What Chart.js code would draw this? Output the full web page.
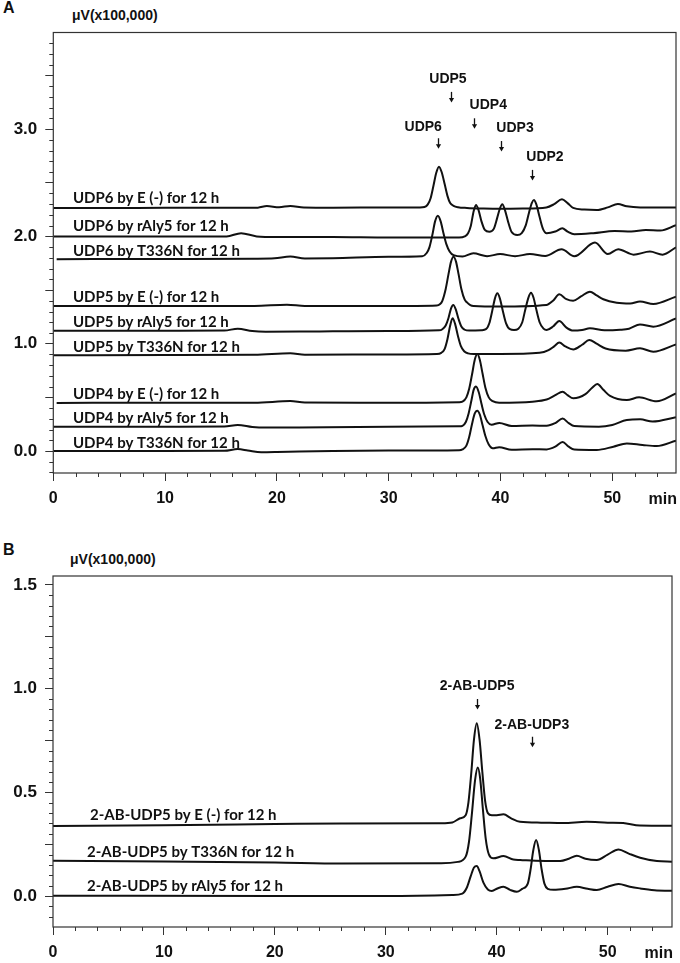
<!DOCTYPE html>
<html lang="en">
<head>
<meta charset="UTF-8">
<title>UDP chromatograms</title>
<script src="https://cdn.jsdelivr.net/npm/chart.js"></script>
<style>
  body { margin: 0; background: #fff; width: 680px; height: 963px; position: relative; overflow: hidden; font-family: "Liberation Sans", Arial, sans-serif; }
  canvas { position: absolute; left: 0; }
  .lbl { position: absolute; font-weight: bold; color: #111; white-space: nowrap; line-height: 1; }
</style>
</head>
<body>
<div class="lbl" style="left:3px;top:0px;font-size:16px">A</div>
<div class="lbl" style="left:72px;top:8px;font-size:14px">μV(x100,000)</div>
<canvas id="panelA" width="680" height="520" style="top:0"></canvas>
<div class="lbl" style="left:3px;top:542px;font-size:16px">B</div>
<div class="lbl" style="left:70px;top:552px;font-size:14px">μV(x100,000)</div>
<canvas id="panelB" width="680" height="423" style="top:540px"></canvas>

<script>
// retention time (min) / signal (x100,000 µV)

// ---- panel A ----
const udp6E_t = [0, 5, 10, 15, 18.3, 19.1, 20.2, 21.2, 22.4, 25, 30, 32.8, 33.2, 33.5, 33.75, 34.0, 34.25, 34.5, 34.75, 35.0, 35.25, 35.5, 35.8, 36.2, 37.0, 38.5, 40, 42, 44.1, 44.8, 45.5, 46.0, 46.5, 47.5, 48.6, 49.6, 50.5, 51.3, 52.5, 55.7];
const udp6E_v = [2.265, 2.265, 2.266, 2.266, 2.268, 2.283, 2.271, 2.284, 2.27, 2.268, 2.27, 2.27, 2.274, 2.298, 2.356, 2.47, 2.591, 2.65, 2.595, 2.49, 2.38, 2.31, 2.285, 2.272, 2.265, 2.26, 2.258, 2.26, 2.27, 2.30, 2.345, 2.31, 2.265, 2.25, 2.246, 2.27, 2.302, 2.28, 2.27, 2.27];

const udp6R_t = [0, 10, 15.5, 16.8, 18.2, 20, 25, 30, 36.3, 36.8, 37.1, 37.35, 37.6, 37.81, 38.05, 38.3, 38.6, 39.0, 39.4, 39.7, 39.95, 40.16, 40.4, 40.7, 41.0, 41.5, 41.9, 42.25, 42.55, 42.8, 42.99, 43.2, 43.5, 43.8, 44.13, 44.9, 45.53, 46.0, 46.6, 48.3, 50.2, 51.7, 53.0, 54.3, 55.7];
const udp6R_v = [2.0, 2.0, 2.0, 2.03, 2.0, 1.995, 1.995, 1.99, 1.99, 2.0, 2.03, 2.10, 2.235, 2.293, 2.24, 2.14, 2.06, 2.043, 2.07, 2.17, 2.26, 2.299, 2.245, 2.13, 2.04, 2.012, 2.03, 2.10, 2.22, 2.31, 2.339, 2.30, 2.18, 2.07, 2.029, 2.045, 2.075, 2.045, 2.02, 2.03, 2.05, 2.045, 2.06, 2.055, 2.105];

const udp6T_t = [0.3, 10, 18, 19.8, 21.2, 22.5, 25, 30, 33.0, 33.4, 33.65, 33.9, 34.15, 34.4, 34.65, 34.9, 35.15, 35.45, 35.8, 36.6, 37.57, 38.8, 39.96, 41.3, 42.64, 44.0, 45.47, 46.6, 48.45, 49.6, 50.53, 51.9, 53.37, 54.5, 55.7];
const udp6T_v = [1.787, 1.79, 1.792, 1.796, 1.812, 1.795, 1.797, 1.81, 1.815, 1.845, 1.90, 2.01, 2.14, 2.193, 2.14, 2.03, 1.93, 1.86, 1.825, 1.812, 1.842, 1.815, 1.836, 1.815, 1.836, 1.818, 1.88, 1.815, 1.942, 1.836, 1.88, 1.83, 1.858, 1.83, 1.898];

const udp5E_t = [0, 10, 18, 20.9, 22.5, 30, 34.3, 34.6, 34.8, 35.1, 35.35, 35.58, 35.8, 36.02, 36.25, 36.5, 36.8, 37.0, 37.3, 37.6, 40, 44.1, 44.7, 45.26, 45.9, 46.5, 47.2, 48.0, 48.6, 49.2, 50.4, 51.6, 52.48, 53.67, 55.7];
const udp5E_v = [1.351, 1.352, 1.352, 1.364, 1.352, 1.351, 1.356, 1.37, 1.40, 1.51, 1.648, 1.765, 1.811, 1.765, 1.648, 1.51, 1.41, 1.385, 1.36, 1.352, 1.346, 1.36, 1.40, 1.46, 1.415, 1.40, 1.44, 1.485, 1.45, 1.414, 1.382, 1.375, 1.393, 1.37, 1.438];

const udp5R_t = [0, 10, 15.3, 16.5, 17.8, 19, 22, 25, 30, 34.5, 34.8, 35.1, 35.35, 35.58, 35.78, 36.0, 36.25, 36.5, 36.8, 37.2, 38.3, 38.7, 39.0, 39.25, 39.5, 39.72, 39.95, 40.2, 40.5, 40.85, 41.21, 41.6, 41.95, 42.2, 42.5, 42.73, 42.95, 43.2, 43.5, 43.85, 44.13, 44.7, 45.26, 45.9, 46.51, 47.3, 48.0, 49.3, 50.7, 51.5, 52.48, 53.67, 55.7];
const udp5R_v = [1.121, 1.121, 1.122, 1.14, 1.118, 1.112, 1.113, 1.115, 1.118, 1.125, 1.135, 1.17, 1.24, 1.33, 1.361, 1.32, 1.23, 1.16, 1.13, 1.122, 1.126, 1.135, 1.19, 1.30, 1.42, 1.469, 1.42, 1.31, 1.19, 1.135, 1.128, 1.14, 1.20, 1.31, 1.43, 1.475, 1.43, 1.32, 1.20, 1.14, 1.128, 1.16, 1.212, 1.15, 1.122, 1.128, 1.143, 1.125, 1.13, 1.14, 1.18, 1.159, 1.235];

const udp5T_t = [0, 10, 18, 21.2, 22.5, 30, 34.3, 34.7, 35.0, 35.25, 35.5, 35.72, 35.95, 36.2, 36.45, 36.75, 37.1, 37.6, 40, 43.5, 44.3, 44.8, 45.26, 45.8, 46.51, 47.3, 47.94, 48.6, 49.4, 51.2, 52.48, 53.67, 55.7];
const udp5T_v = [0.892, 0.894, 0.896, 0.911, 0.897, 0.900, 0.905, 0.915, 0.95, 1.04, 1.17, 1.237, 1.18, 1.07, 0.98, 0.93, 0.91, 0.904, 0.904, 0.915, 0.94, 0.975, 1.010, 0.975, 0.947, 0.99, 1.035, 1.0, 0.955, 0.935, 0.957, 0.926, 0.994];

const udp4E_t = [0.3, 10, 18, 21.2, 22.5, 30, 36.3, 36.6, 36.95, 37.2, 37.45, 37.7, 37.93, 38.15, 38.4, 38.65, 38.95, 39.3, 39.88, 42.86, 44.13, 44.9, 45.56, 46.0, 46.51, 47.6, 48.2, 48.66, 49.2, 49.8, 51.3, 52.4, 53.97, 55.7];
const udp4E_v = [0.448, 0.45, 0.45, 0.465, 0.451, 0.45, 0.455, 0.46, 0.50, 0.58, 0.71, 0.85, 0.904, 0.85, 0.72, 0.59, 0.50, 0.465, 0.45, 0.46, 0.48, 0.52, 0.553, 0.52, 0.491, 0.53, 0.59, 0.624, 0.57, 0.513, 0.475, 0.50, 0.463, 0.537];

const udp4R_t = [0, 10, 15.3, 16.5, 17.8, 19, 22, 30, 36.3, 36.6, 36.9, 37.15, 37.4, 37.6, 37.81, 38.05, 38.3, 38.55, 38.85, 39.2, 39.9, 41.0, 42.86, 44.13, 44.9, 45.56, 46.1, 46.6, 48.8, 50.0, 51.3, 52.5, 53.6, 55.7];
const udp4R_v = [0.227, 0.227, 0.228, 0.243, 0.224, 0.218, 0.22, 0.225, 0.23, 0.235, 0.27, 0.35, 0.47, 0.57, 0.60, 0.55, 0.44, 0.34, 0.27, 0.245, 0.262, 0.233, 0.237, 0.235, 0.26, 0.302, 0.26, 0.233, 0.227, 0.243, 0.289, 0.295, 0.274, 0.314];

const udp4T_t = [0, 10, 15.3, 16.5, 17.4, 18.6, 20, 22, 25, 30, 36.3, 36.6, 36.95, 37.2, 37.45, 37.7, 37.93, 38.15, 38.4, 38.65, 38.95, 39.3, 39.88, 41.0, 42.86, 44.13, 44.9, 45.56, 46.1, 46.6, 48.6, 50.1, 51.3, 52.7, 53.97, 55.7];
const udp4T_v = [0.0, 0.001, 0.002, 0.018, 0.005, -0.012, -0.01, -0.005, 0.0, 0.004, 0.008, 0.015, 0.05, 0.13, 0.25, 0.35, 0.376, 0.34, 0.24, 0.14, 0.06, 0.025, 0.035, 0.012, 0.016, 0.015, 0.04, 0.084, 0.04, 0.014, 0.01, 0.04, 0.07, 0.056, 0.046, 0.096];

const namesA = ['UDP6 by E (-) for 12 h', 'UDP6 by rAly5 for 12 h', 'UDP6 by T336N for 12 h',
                'UDP5 by E (-) for 12 h', 'UDP5 by rAly5 for 12 h', 'UDP5 by T336N for 12 h',
                'UDP4 by E (-) for 12 h', 'UDP4 by rAly5 for 12 h', 'UDP4 by T336N for 12 h'];
const peakNamesA = ['UDP5', 'UDP4', 'UDP6', 'UDP3', 'UDP2'];
const yTicksA = [0, 0.5, 1, 1.5, 2, 2.5, 3, 3.5];
const yTickLabelsA = ['0.0', '', '1.0', '', '2.0', '', '3.0', ''];

// ---- panel B ----
const abE_t = [0, 10, 20, 26, 35, 36.0, 36.7, 37.2, 37.45, 37.7, 37.95, 38.2, 38.45, 38.7, 38.95, 39.2, 39.56, 40.0, 40.61, 41.3, 42.1, 44, 46, 48.1, 50, 51.4, 52.9, 55.8];
const abE_v = [0.338, 0.342, 0.347, 0.35, 0.351, 0.355, 0.375, 0.39, 0.452, 0.59, 0.755, 0.833, 0.755, 0.60, 0.46, 0.40, 0.39, 0.39, 0.394, 0.375, 0.358, 0.354, 0.352, 0.358, 0.354, 0.352, 0.34, 0.339];

const abT_t = [0, 10, 20, 26, 35, 36.5, 37.2, 37.5, 37.75, 38.05, 38.29, 38.5, 38.75, 39.0, 39.3, 39.7, 40.61, 41.5, 42.11, 43.5, 45.72, 46.5, 47.22, 48.0, 49.02, 50.0, 50.98, 51.9, 52.93, 54.44, 55.8];
const abT_v = [0.170, 0.167, 0.162, 0.157, 0.158, 0.165, 0.19, 0.262, 0.39, 0.56, 0.620, 0.57, 0.42, 0.28, 0.20, 0.182, 0.193, 0.176, 0.174, 0.17, 0.169, 0.18, 0.194, 0.18, 0.174, 0.20, 0.225, 0.205, 0.185, 0.169, 0.166];

const abR_t = [0, 20, 30, 36, 36.9, 37.3, 37.65, 37.95, 38.2, 38.45, 38.8, 39.2, 39.56, 40.1, 40.61, 41.2, 41.81, 42.3, 42.8, 43.05, 43.3, 43.55, 43.8, 44.05, 44.3, 44.6, 45.12, 46.2, 47.22, 48.2, 49.02, 50.0, 50.98, 52.0, 52.93, 54.44, 55.8];
const abR_v = [0.002, 0.0, 0.0, 0.005, 0.012, 0.04, 0.095, 0.138, 0.145, 0.12, 0.065, 0.032, 0.025, 0.038, 0.045, 0.03, 0.021, 0.035, 0.06, 0.128, 0.222, 0.27, 0.222, 0.128, 0.06, 0.035, 0.03, 0.035, 0.045, 0.035, 0.029, 0.045, 0.058, 0.045, 0.037, 0.027, 0.026];

const namesB = ['2-AB-UDP5 by E (-) for 12 h', '2-AB-UDP5 by T336N for 12 h', '2-AB-UDP5 by rAly5 for 12 h'];
const peakNamesB = ['2-AB-UDP5', '2-AB-UDP3'];
const yTicksB = [0, 0.25, 0.5, 0.75, 1, 1.25, 1.5];
const yTickLabelsB = ['0.0', '', '0.5', '', '1.0', '', '1.5'];

const xTicks = [0, 10, 20, 30, 40, 50];

// ---- drawing ----
const INK = '#111';
const LABEL_FONT = '700 15px Lato';
const PEAK_FONT = 'bold 14px "Liberation Sans"';

function trace(t, v) {
  return {
    data: t.map((tt, i) => ({ x: tt, y: v[i] })),
    borderColor: INK, borderWidth: 2, pointRadius: 0,
    cubicInterpolationMode: 'monotone', fill: false
  };
}

const isMult = (v, s) => Math.abs(v / s - Math.round(v / s)) < 1e-6;

// small down arrow under a peak name
function arrow(ctx, px, py) {
  ctx.beginPath();
  ctx.moveTo(px, py - 5); ctx.lineTo(px, py + 2);
  ctx.stroke();
  ctx.beginPath();
  ctx.moveTo(px - 2.6, py + 1); ctx.lineTo(px + 2.6, py + 1); ctx.lineTo(px, py + 5.5);
  ctx.closePath(); ctx.fill();
}

const panelDecor = {
  id: 'panelDecor',
  afterDatasetsDraw(chart, args, o) {
    const { ctx, chartArea: a, scales: { x, y } } = chart;
    ctx.save();
    ctx.strokeStyle = '#333';
    ctx.lineWidth = 1.2;
    ctx.strokeRect(a.left, a.top, a.right - a.left, a.bottom - a.top);

    // minor ticks
    ctx.lineWidth = 1;
    ctx.beginPath();
    for (let k = Math.ceil(y.min / o.yMinor); k * o.yMinor <= y.max; k++) {
      const v = k * o.yMinor;
      if (isMult(v, o.yMajor)) continue;
      const p = Math.round(y.getPixelForValue(v)) + 0.5;
      ctx.moveTo(a.left - 4, p); ctx.lineTo(a.left, p);
    }
    for (let k = 1; k * 2 <= x.max; k++) {
      const v = k * 2;
      if (isMult(v, 10)) continue;
      const p = Math.round(x.getPixelForValue(v)) + 0.5;
      ctx.moveTo(p, a.bottom); ctx.lineTo(p, a.bottom + 4);
    }
    ctx.stroke();

    ctx.fillStyle = INK;
    ctx.strokeStyle = INK;
    // axis unit
    ctx.font = 'bold 16px "Liberation Sans"';
    ctx.textAlign = 'right'; ctx.textBaseline = 'middle';
    ctx.fillText('min', a.right + 1, a.bottom + 8 + 9 + 9.6);

    // trace names
    ctx.font = LABEL_FONT;
    ctx.textAlign = 'left';
    o.names.forEach((n, i) => ctx.fillText(n, x.getPixelForValue(o.nameX[i]), y.getPixelForValue(o.nameY[i])));

    // peak names with arrows
    ctx.textAlign = 'center';
    ctx.font = PEAK_FONT;
    ctx.lineWidth = 1.3;
    o.peaks.forEach((n, i) => {
      ctx.fillText(n, x.getPixelForValue(o.peakX[i]), y.getPixelForValue(o.peakY[i]));
      arrow(ctx, Math.round(x.getPixelForValue(o.arrowX[i])) + 0.5, y.getPixelForValue(o.arrowY[i]));
    });
    ctx.restore();
  }
};

function makePanel(id, cfg) {
  return new Chart(document.getElementById(id), {
    type: 'line',
    data: { datasets: cfg.traces },
    plugins: [panelDecor],
    options: {
      responsive: false, animation: false, events: [],
      layout: { padding: { left: 0, right: cfg.padRight, top: cfg.padTop, bottom: 0 } },
      plugins: { legend: { display: false }, tooltip: { enabled: false }, panelDecor: cfg.decor },
      scales: {
        x: {
          type: 'linear', min: 0, max: cfg.xMax,
          afterBuildTicks: s => { s.ticks = xTicks.map(v => ({ value: v })); },
          afterFit: s => { s.height = cfg.xHeight; },
          border: { display: false },
          grid: { drawOnChartArea: false, color: '#333', tickLength: 8 },
          ticks: { color: INK, padding: 8, maxRotation: 0, font: { family: 'Liberation Sans', size: 16, weight: 'bold' } }
        },
        y: {
          type: 'linear', min: cfg.yMin, max: cfg.yMax,
          afterBuildTicks: s => { s.ticks = cfg.yTicks.map(v => ({ value: v })); },
          afterFit: s => { s.width = cfg.yWidth; },
          border: { display: false },
          grid: { drawOnChartArea: false, color: '#333', tickLength: 8 },
          ticks: { color: INK, padding: 8, font: { family: 'Liberation Sans', size: 17, weight: 'bold' },
                   callback: (v, i) => cfg.yLabels[i] }
        }
      }
    }
  });
}

makePanel('panelA', {
  traces: [trace(udp6E_t, udp6E_v), trace(udp6R_t, udp6R_v), trace(udp6T_t, udp6T_v),
           trace(udp5E_t, udp5E_v), trace(udp5R_t, udp5R_v), trace(udp5T_t, udp5T_v),
           trace(udp4E_t, udp4E_v), trace(udp4R_t, udp4R_v), trace(udp4T_t, udp4T_v)],
  xMax: 55.7, yMin: -0.205, yMax: 3.9, yTicks: yTicksA, yLabels: yTickLabelsA,
  yWidth: 53.3, xHeight: 47, padTop: 32.5, padRight: 4,
  decor: {
    yMinor: 0.1, yMajor: 0.5,
    names: namesA, nameX: Array(9).fill(1.76),
    nameY: [2.355, 2.097, 1.864, 1.438, 1.205, 0.972, 0.531, 0.310, 0.077],
    peaks: peakNamesA,
    peakX: [35.3, 38.91, 33.09, 41.30, 43.98], peakY: [3.467, 3.225, 3.022, 3.007, 2.743],
    arrowX: [35.57, 37.66, 34.38, 40.04, 42.79], arrowY: [3.30, 3.054, 2.868, 2.842, 2.573]
  }
});

makePanel('panelB', {
  traces: [trace(abE_t, abE_v), trace(abT_t, abT_v), trace(abR_t, abR_v)],
  xMax: 55.8, yMin: -0.149, yMax: 1.543, yTicks: yTicksB, yLabels: yTickLabelsB,
  yWidth: 53, xHeight: 36, padTop: 36, padRight: 8,
  decor: {
    yMinor: 0.05, yMajor: 0.25,
    names: namesB, nameX: [3.34, 3.07, 3.07], nameY: [0.391, 0.214, 0.048],
    peaks: peakNamesB,
    peakX: [38.23, 43.17], peakY: [1.013, 0.824],
    arrowX: [38.23, 43.17], arrowY: [0.926, 0.744]
  }
});
</script>
</body>
</html>
